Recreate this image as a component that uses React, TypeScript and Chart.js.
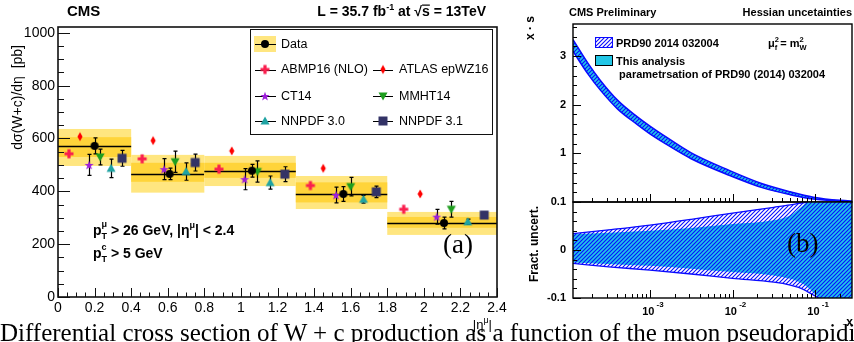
import React, { useEffect, useRef } from "react";
import { Chart, registerables } from "chart.js";

Chart.register(...registerables);

// ===== Panel (a): dsigma(W+c)/deta =====
const binEdges = [0, 0.4, 0.8, 1.3, 1.8, 2.4];
const dataEta = [0.2, 0.61, 1.06, 1.56, 2.11];
const dataXsec = [572, 466, 478, 390, 280];
const dataErr = [30, 22, 24, 28, 22];
const bandOuterHi = [636, 538, 534, 458, 322];
const bandOuterLo = [496, 395, 420, 333, 235];
const bandInnerHi = [605, 508, 508, 434, 303];
const bandInnerLo = [530, 436, 451, 358, 262];

const abmpEta = [0.06, 0.46, 0.88, 1.38, 1.89];
const abmpVal = [542, 523, 484, 422, 332];
const atlasEta = [0.12, 0.52, 0.95, 1.45, 1.98];
const atlasVal = [607, 592, 553, 487, 390];
const ct14Eta = [0.17, 0.58, 1.02, 1.52, 2.07];
const ct14Val = [500, 484, 446, 386, 304];
const ct14Err = [40, 40, 40, 30, 28];
const mmhtEta = [0.23, 0.64, 1.09, 1.6, 2.15];
const mmhtVal = [530, 512, 475, 418, 332];
const mmhtErr = [30, 40, 40, 35, 30];
const nn30Eta = [0.29, 0.7, 1.16, 1.67, 2.24];
const nn30Val = [487, 475, 433, 370, 285];
const nn30Err = [35, 33, 25, 15, 10];
const nn31Eta = [0.35, 0.75, 1.24, 1.74, 2.33];
const nn31Val = [525, 509, 465, 398, 310];
const nn31Err = [30, 32, 28, 22, 10];

const etaTicks = [0, 0.2, 0.4, 0.6, 0.8, 1, 1.2, 1.4, 1.6, 1.8, 2, 2.2, 2.4];
const xsecTicks = [0, 200, 400, 600, 800, 1000];

// ===== Panel (b): x*s and fractional uncertainty =====
const sX = [1.17e-4, 1.78e-4, 2.51e-4, 4.07e-4, 6.92e-4, 1.0e-3, 1.45e-3, 3.16e-3, 9.12e-3, 2.34e-2, 5.01e-2, 9.55e-2, 0.2, 0.316];
const sHi = [3.34, 2.85, 2.50, 2.09, 1.76, 1.56, 1.375, 1.01, 0.65, 0.37, 0.21, 0.10, 0.035, 0.017];
const sLo = [3.10, 2.63, 2.30, 1.91, 1.60, 1.40, 1.225, 0.89, 0.55, 0.29, 0.15, 0.06, 0.015, 0.003];

const uX = [1.17e-4, 3.16e-4, 1e-3, 3.16e-3, 1e-2, 3.16e-2, 5.01e-2, 6.31e-2, 7.94e-2, 0.1, 0.126, 0.316];
const hatchHi = [0.034, 0.042, 0.052, 0.064, 0.077, 0.089, 0.094, 0.097, 0.1, 0.115, 0.14, 0.3];
const hatchLo = [-0.028, -0.035, -0.042, -0.05, -0.059, -0.067, -0.073, -0.078, -0.086, -0.096, -0.11, -0.3];
const cyanHi = [0.033, 0.036, 0.04, 0.046, 0.054, 0.062, 0.072, 0.085, 0.1, 0.12, 0.15, 0.3];
const cyanLo = [-0.026, -0.029, -0.033, -0.039, -0.046, -0.053, -0.06, -0.066, -0.076, -0.092, -0.11, -0.3];

const xsTicks = [1, 2, 3];
const ratioTicks = [-0.1, 0, 0.1];
const logLabelExps = [-3, -2, -1];

const FONT = '"Liberation Sans", Arial, Helvetica, sans-serif';
const f = (size: number, bold = false) => `${bold ? "bold " : ""}${size}px ${FONT}`;
const OUTER = "#ffe680";
const INNER = "#ffd43a";
const BLUE = "#0a0aff";
const CYAN = "#22c6e6";
const RX = 510; // left offset of right canvases

type Seg = { t: string; size: number; bold?: boolean; dy?: number; keep?: boolean; over?: boolean };

function rich(ctx: CanvasRenderingContext2D, x: number, y: number, segs: Seg[], align: "left" | "right" | "center" = "left") {
  let total = 0;
  const ws: number[] = [];
  for (const s of segs) {
    ctx.font = f(s.size, s.bold);
    const w = ctx.measureText(s.t).width;
    ws.push(w);
    if (!s.keep) total += w;
  }
  let cx = align === "left" ? x : align === "right" ? x - total : x - total / 2;
  ctx.textAlign = "left";
  ctx.textBaseline = "alphabetic";
  segs.forEach((s, i) => {
    ctx.font = f(s.size, s.bold);
    ctx.fillText(s.t, cx, y + (s.dy || 0));
    if (s.over) ctx.fillRect(cx, y + (s.dy || 0) - s.size * 0.82, ws[i], 1.2);
    if (!s.keep) cx += ws[i];
  });
}

function makeMarker(kind: string, color: string): HTMLCanvasElement {
  const c = document.createElement("canvas");
  const s = 12;
  c.width = s;
  c.height = s;
  const g = c.getContext("2d")!;
  g.fillStyle = color;
  const m = s / 2;
  g.beginPath();
  if (kind === "circle") g.arc(m, m, 4, 0, Math.PI * 2);
  else if (kind === "plus") {
    g.rect(m - 1.6, m - 4.5, 3.2, 9);
    g.rect(m - 4.5, m - 1.6, 9, 3.2);
  } else if (kind === "diamond") {
    g.moveTo(m, m - 4.5);
    g.lineTo(m + 2.6, m);
    g.lineTo(m, m + 4.5);
    g.lineTo(m - 2.6, m);
    g.closePath();
  } else if (kind === "star") {
    for (let k = 0; k < 10; k++) {
      const r = k % 2 === 0 ? 4.8 : 2.0;
      const a = -Math.PI / 2 + (k * Math.PI) / 5;
      const px = m + r * Math.cos(a);
      const py = m + 0.5 + r * Math.sin(a);
      if (k === 0) g.moveTo(px, py);
      else g.lineTo(px, py);
    }
    g.closePath();
  } else if (kind === "tridown") {
    g.moveTo(m - 4.5, m - 3.5);
    g.lineTo(m + 4.5, m - 3.5);
    g.lineTo(m, m + 4.5);
    g.closePath();
  } else if (kind === "triup") {
    g.moveTo(m - 4.5, m + 3.5);
    g.lineTo(m + 4.5, m + 3.5);
    g.lineTo(m, m - 4.5);
    g.closePath();
  } else if (kind === "square") g.rect(m - 4.5, m - 4.5, 9, 9);
  g.fill();
  return c;
}

function makeHatch(ctx: CanvasRenderingContext2D): CanvasPattern {
  const t = document.createElement("canvas");
  const s = 4;
  t.width = s;
  t.height = s;
  const g = t.getContext("2d")!;
  g.strokeStyle = BLUE;
  g.lineWidth = 1.1;
  g.beginPath();
  g.moveTo(-1, s + 1);
  g.lineTo(s + 1, -1);
  g.moveTo(-1, 1);
  g.lineTo(1, -1);
  g.moveTo(s - 1, s + 1);
  g.lineTo(s + 1, s - 1);
  g.stroke();
  return ctx.createPattern(t, "repeat")!;
}

function errBar(ctx: CanvasRenderingContext2D, px: number, y0: number, y1: number) {
  const x = Math.round(px) + 0.5;
  ctx.beginPath();
  ctx.moveTo(x, y0);
  ctx.lineTo(x, y1);
  ctx.moveTo(x - 2, y0);
  ctx.lineTo(x + 2, y0);
  ctx.moveTo(x - 2, y1);
  ctx.lineTo(x + 2, y1);
  ctx.stroke();
}

export default function App() {
  const leftRef = useRef<HTMLCanvasElement>(null);
  const topRef = useRef<HTMLCanvasElement>(null);
  const botRef = useRef<HTMLCanvasElement>(null);

  useEffect(() => {
    const charts: Chart[] = [];
    const mk = {
      data: makeMarker("circle", "#000000"),
      abmp: makeMarker("plus", "#fa1e4e"),
      atlas: makeMarker("diamond", "#ff0000"),
      ct14: makeMarker("star", "#9d1fd9"),
      mmht: makeMarker("tridown", "#1e9e1e"),
      nn30: makeMarker("triup", "#1fa3a3"),
      nn31: makeMarker("square", "#333366"),
    };

    const series = [
      { name: "Data", eta: dataEta, val: dataXsec, err: dataErr, m: mk.data },
      { name: "ABMP16 (NLO)", eta: abmpEta, val: abmpVal, err: null, m: mk.abmp },
      { name: "ATLAS epWZ16", eta: atlasEta, val: atlasVal, err: null, m: mk.atlas },
      { name: "CT14", eta: ct14Eta, val: ct14Val, err: ct14Err, m: mk.ct14 },
      { name: "MMHT14", eta: mmhtEta, val: mmhtVal, err: mmhtErr, m: mk.mmht },
      { name: "NNPDF 3.0", eta: nn30Eta, val: nn30Val, err: nn30Err, m: mk.nn30 },
      { name: "NNPDF 3.1", eta: nn31Eta, val: nn31Val, err: nn31Err, m: mk.nn31 },
    ];

    const leftPlugin = {
      id: "leftDeco",
      beforeDatasetsDraw(chart: any) {
        const { ctx, scales } = chart;
        const x = scales.x, y = scales.y;
        ctx.save();
        for (let i = 0; i < dataXsec.length; i++) {
          const x0 = x.getPixelForValue(binEdges[i]);
          const x1 = x.getPixelForValue(binEdges[i + 1]);
          const oh = y.getPixelForValue(bandOuterHi[i]);
          const ol = y.getPixelForValue(bandOuterLo[i]);
          const ih = y.getPixelForValue(bandInnerHi[i]);
          const il = y.getPixelForValue(bandInnerLo[i]);
          ctx.fillStyle = OUTER;
          ctx.fillRect(x0, oh, x1 - x0, ol - oh);
          ctx.fillStyle = INNER;
          ctx.fillRect(x0, ih, x1 - x0, il - ih);
          const yc = Math.round(y.getPixelForValue(dataXsec[i])) + 0.5;
          ctx.strokeStyle = "#000";
          ctx.lineWidth = 1.6;
          ctx.beginPath();
          ctx.moveTo(x0, yc);
          ctx.lineTo(x1, yc);
          ctx.stroke();
        }
        ctx.strokeStyle = "#000";
        ctx.lineWidth = 1.2;
        for (const s of series) {
          if (!s.err) continue;
          for (let i = 0; i < s.eta.length; i++) {
            errBar(ctx, x.getPixelForValue(s.eta[i]), y.getPixelForValue(s.val[i] + s.err[i]), y.getPixelForValue(s.val[i] - s.err[i]));
          }
        }
        ctx.restore();
      },
      afterDatasetsDraw(chart: any) {
        const { ctx, chartArea: ca, scales } = chart;
        const x = scales.x, y = scales.y;
        ctx.save();
        ctx.strokeStyle = "#111";
        ctx.lineWidth = 1;
        ctx.beginPath();
        for (let k = 0; k <= 48; k++) {
          const v = k * 0.05;
          const major = k % 4 === 0;
          const px = Math.round(x.getPixelForValue(v)) + 0.5;
          ctx.moveTo(px, ca.bottom);
          ctx.lineTo(px, ca.bottom - (major ? 9 : 4.5));
        }
        for (let k = 0; k <= 20; k++) {
          const v = k * 50;
          const major = k % 4 === 0;
          const py = Math.round(y.getPixelForValue(v)) + 0.5;
          ctx.moveTo(ca.left, py);
          ctx.lineTo(ca.left + (major ? 12 : 6), py);
        }
        ctx.stroke();
        ctx.lineWidth = 1.6;
        ctx.strokeRect(ca.left, ca.top, ca.right - ca.left, ca.bottom - ca.top);
        ctx.restore();
      },
      afterDraw(chart: any) {
        const { ctx } = chart;
        ctx.save();
        ctx.fillStyle = "#000";
        rich(ctx, 67, 16, [{ t: "CMS", size: 15, bold: true }]);
        rich(ctx, 486, 16, [
          { t: "L = 35.7 fb", size: 14, bold: true },
          { t: "-1", size: 9, bold: true, dy: -6 },
          { t: " at ", size: 14, bold: true },
          { t: "\u221A", size: 14, bold: true },
          { t: "s", size: 14, bold: true, over: true },
          { t: " = 13TeV", size: 14, bold: true },
        ], "right");
        ctx.save();
        ctx.translate(18, 45);
        ctx.rotate(-Math.PI / 2);
        ctx.font = f(14);
        ctx.textAlign = "right";
        ctx.textBaseline = "middle";
        ctx.fillText("d\u03C3(W+c)/d\u03B7  [pb]", 0, 0);
        ctx.restore();
        rich(ctx, 492, 329, [
          { t: "|\u03B7", size: 13 },
          { t: "\u03BC", size: 9, dy: -6 },
          { t: "|", size: 13 },
        ], "right");
        rich(ctx, 93, 235, [
          { t: "p", size: 14, bold: true },
          { t: "\u03BC", size: 9, bold: true, dy: -8, keep: true },
          { t: "T", size: 9, bold: true, dy: 4 },
          { t: " > 26 GeV, |\u03B7", size: 14, bold: true },
          { t: "\u03BC", size: 9, bold: true, dy: -7 },
          { t: "| < 2.4", size: 14, bold: true },
        ]);
        rich(ctx, 93, 258, [
          { t: "p", size: 14, bold: true },
          { t: "c", size: 9, bold: true, dy: -8, keep: true },
          { t: "T", size: 9, bold: true, dy: 4 },
          { t: " > 5 GeV", size: 14, bold: true },
        ]);
        ctx.font = '27px "Liberation Serif", "Times New Roman", serif';
        ctx.textAlign = "left";
        ctx.textBaseline = "alphabetic";
        ctx.fillText("(a)", 443, 253);
        ctx.fillStyle = "#fff";
        ctx.fillRect(250, 29, 242, 105);
        ctx.strokeStyle = "#111";
        ctx.lineWidth = 1;
        ctx.strokeRect(250.5, 29.5, 242, 105);
        const slots = [
          [0, 44], [0, 69.5], [1, 69.5], [0, 96], [1, 96], [0, 121], [1, 121],
        ];
        const colX = [[255, 276, 265, 281], [373, 393, 383, 399]];
        ctx.fillStyle = OUTER;
        ctx.fillRect(254, 36, 22, 16);
        series.forEach((s, i) => {
          const [col, ry] = slots[i];
          const [l0, l1, mx, tx] = colX[col];
          ctx.strokeStyle = "#000";
          ctx.lineWidth = 1;
          ctx.beginPath();
          ctx.moveTo(l0, Math.round(ry) + 0.5);
          ctx.lineTo(l1, Math.round(ry) + 0.5);
          ctx.stroke();
          ctx.drawImage(s.m, mx - s.m.width / 2, ry - s.m.height / 2);
          ctx.fillStyle = "#000";
          ctx.font = f(12.5);
          ctx.textAlign = "left";
          ctx.textBaseline = "middle";
          ctx.fillText(s.name, tx, ry + 0.5);
        });
        ctx.restore();
      },
    };

    if (leftRef.current) {
      charts.push(
        new Chart(leftRef.current, {
          type: "scatter",
          data: {
            datasets: series.map((s) => ({
              label: s.name,
              data: s.eta.map((e, i) => ({ x: e, y: s.val[i] })),
              pointStyle: s.m as any,
              pointRadius: 5,
              showLine: false,
            })),
          },
          options: {
            animation: false,
            responsive: false,
            events: [],
            layout: { padding: { left: 0, right: 13, top: 27, bottom: 15 } },
            plugins: { legend: { display: false }, tooltip: { enabled: false } },
            scales: {
              x: {
                type: "linear",
                min: 0,
                max: 2.4,
                grid: { display: false, drawTicks: false },
                border: { display: false },
                afterBuildTicks: (s: any) => { s.ticks = etaTicks.map((v) => ({ value: v })); },
                afterFit: (s: any) => { s.height = 30; },
                ticks: {
                  padding: 3,
                  color: "#000",
                  font: { family: FONT, size: 14 },
                  maxRotation: 0,
                  autoSkip: false,
                  callback: (v: any) => String(Math.round(Number(v) * 10) / 10),
                },
              },
              y: {
                type: "linear",
                min: 0,
                max: 1022,
                grid: { display: false, drawTicks: false },
                border: { display: false },
                afterBuildTicks: (s: any) => { s.ticks = xsecTicks.map((v) => ({ value: v })); },
                afterFit: (s: any) => { s.width = 58; },
                ticks: {
                  padding: 3,
                  color: "#000",
                  font: { family: FONT, size: 14 },
                  callback: (v: any) => String(v),
                },
              },
            },
          },
          plugins: [leftPlugin as any],
        })
      );
    }

    const drawLogXTicks = (ctx: CanvasRenderingContext2D, ca: any, x: any) => {
      ctx.beginPath();
      for (let d = -5; d <= 0; d++) {
        for (let k = 1; k <= 9; k++) {
          const v = k * Math.pow(10, d);
          if (v < x.min || v > x.max) continue;
          const px = Math.round(x.getPixelForValue(v)) + 0.5;
          ctx.moveTo(px, ca.bottom);
          ctx.lineTo(px, ca.bottom - (k === 1 ? 8 : 4));
        }
      }
      ctx.stroke();
    };

    if (topRef.current) {
      const tctx = topRef.current.getContext("2d")!;
      const hatch = makeHatch(tctx);
      const topPlugin = {
        id: "topDeco",
        afterDatasetsDraw(chart: any) {
          const { ctx, chartArea: ca, scales } = chart;
          const x = scales.x, y = scales.y;
          ctx.save();
          ctx.strokeStyle = "#000";
          ctx.lineWidth = 1;
          drawLogXTicks(ctx, ca, x);
          ctx.beginPath();
          for (let k = 1; k <= 18; k++) {
            const v = k * 0.2;
            if (v > y.max) break;
            const py = Math.round(y.getPixelForValue(v)) + 0.5;
            const major = k % 5 === 0;
            ctx.moveTo(ca.left, py);
            ctx.lineTo(ca.left + (major ? 8 : 4), py);
          }
          ctx.stroke();
          ctx.lineWidth = 1.4;
          ctx.strokeRect(ca.left, ca.top, ca.right - ca.left, ca.bottom - ca.top);
          ctx.fillStyle = "#000";
          ctx.font = f(11, true);
          ctx.textAlign = "right";
          ctx.textBaseline = "middle";
          for (const v of xsTicks) ctx.fillText(String(v), 566 - RX, y.getPixelForValue(v));
          ctx.restore();
        },
        afterDraw(chart: any) {
          const { ctx } = chart;
          ctx.save();
          ctx.fillStyle = "#000";
          rich(ctx, 569 - RX, 16, [{ t: "CMS Preliminary", size: 11, bold: true }]);
          rich(ctx, 852 - RX, 16, [{ t: "Hessian uncetainties", size: 11, bold: true }], "right");
          ctx.save();
          ctx.translate(531 - RX, 16);
          ctx.rotate(-Math.PI / 2);
          ctx.font = f(12, true);
          ctx.textAlign = "right";
          ctx.textBaseline = "middle";
          ctx.fillText("x \u00B7 s", 0, 0);
          ctx.restore();
          ctx.fillStyle = "#fff";
          ctx.fillRect(595 - RX, 37, 17, 10);
          ctx.fillStyle = hatch;
          ctx.fillRect(595 - RX, 37, 17, 10);
          ctx.strokeStyle = BLUE;
          ctx.lineWidth = 1;
          ctx.strokeRect(595.5 - RX, 37.5, 17, 10);
          ctx.fillStyle = CYAN;
          ctx.fillRect(595 - RX, 55, 17, 10);
          ctx.strokeStyle = "#000";
          ctx.strokeRect(595.5 - RX, 55.5, 17, 10);
          ctx.fillStyle = "#000";
          rich(ctx, 616 - RX, 46.5, [{ t: "PRD90 2014 032004", size: 11, bold: true }]);
          rich(ctx, 768 - RX, 46.5, [
            { t: "\u03BC", size: 11, bold: true },
            { t: "2", size: 7.5, bold: true, dy: -5, keep: true },
            { t: "f", size: 7.5, bold: true, dy: 3 },
            { t: " = m", size: 11, bold: true },
            { t: "2", size: 7.5, bold: true, dy: -5, keep: true },
            { t: "W", size: 7.5, bold: true, dy: 3 },
          ]);
          rich(ctx, 616 - RX, 64.5, [{ t: "This analysis", size: 11, bold: true }]);
          rich(ctx, 616 - RX, 77.5, [{ t: " parametrsation of PRD90 (2014) 032004", size: 11, bold: true }]);
          ctx.restore();
        },
      };
      charts.push(
        new Chart(topRef.current, {
          type: "line",
          data: {
            datasets: [
              { data: sX.map((v, i) => ({ x: v, y: sHi[i] })), fill: "+1", backgroundColor: hatch, borderColor: BLUE, borderWidth: 1.5, pointRadius: 0, cubicInterpolationMode: "monotone" },
              { data: sX.map((v, i) => ({ x: v, y: sLo[i] })), fill: false, borderColor: BLUE, borderWidth: 1.5, pointRadius: 0, cubicInterpolationMode: "monotone" },
              { data: sX.map((v, i) => ({ x: v, y: sHi[i] })), fill: "+1", backgroundColor: CYAN, borderWidth: 0, pointRadius: 0, cubicInterpolationMode: "monotone" },
              { data: sX.map((v, i) => ({ x: v, y: sLo[i] })), fill: false, borderWidth: 0, pointRadius: 0, cubicInterpolationMode: "monotone" },
            ] as any,
          },
          options: {
            animation: false,
            responsive: false,
            events: [],
            layout: { padding: { left: 0, right: 2, top: 24, bottom: 140 } },
            plugins: { legend: { display: false }, tooltip: { enabled: false } },
            scales: {
              x: { type: "logarithmic", min: 1.17e-4, max: 0.28, ticks: { display: false }, grid: { display: false, drawTicks: false }, border: { display: false }, afterFit: (s: any) => { s.height = 0; } },
              y: { type: "linear", min: 0, max: 3.66, ticks: { display: false }, grid: { display: false, drawTicks: false }, border: { display: false }, afterFit: (s: any) => { s.width = 63; } },
            },
          },
          plugins: [topPlugin as any],
        })
      );
    }

    if (botRef.current) {
      const bctx = botRef.current.getContext("2d")!;
      const hatch = makeHatch(bctx);
      const botPlugin = {
        id: "botDeco",
        afterDatasetsDraw(chart: any) {
          const { ctx, chartArea: ca, scales } = chart;
          const x = scales.x, y = scales.y;
          ctx.save();
          ctx.strokeStyle = "#000";
          ctx.lineWidth = 1;
          drawLogXTicks(ctx, ca, x);
          ctx.beginPath();
          for (let k = -5; k <= 5; k++) {
            const v = k * 0.02;
            const py = Math.round(y.getPixelForValue(v)) + 0.5;
            const major = k % 5 === 0;
            ctx.moveTo(ca.left, py);
            ctx.lineTo(ca.left + (major ? 8 : 4), py);
          }
          ctx.stroke();
          ctx.lineWidth = 1.4;
          ctx.strokeRect(ca.left, ca.top, ca.right - ca.left, ca.bottom - ca.top);
          ctx.fillStyle = "#000";
          ctx.font = f(11, true);
          ctx.textAlign = "right";
          ctx.textBaseline = "middle";
          for (const v of ratioTicks) ctx.fillText(String(v), 566 - RX, y.getPixelForValue(v));
          for (const e of logLabelExps) {
            const px = x.getPixelForValue(Math.pow(10, e));
            rich(ctx, px + 3, 315, [
              { t: "10", size: 11, bold: true },
              { t: " " + String(e), size: 8, bold: true, dy: -8 },
            ], "center");
          }
          ctx.restore();
        },
        afterDraw(chart: any) {
          const { ctx } = chart;
          ctx.save();
          ctx.fillStyle = "#000";
          ctx.save();
          ctx.translate(535 - RX, 206);
          ctx.rotate(-Math.PI / 2);
          ctx.font = f(12, true);
          ctx.textAlign = "right";
          ctx.textBaseline = "middle";
          ctx.fillText("Fract. uncert.", 0, 0);
          ctx.restore();
          rich(ctx, 853 - RX, 326, [{ t: "x", size: 12, bold: true }], "right");
          ctx.font = '27px "Liberation Serif", "Times New Roman", serif';
          ctx.textAlign = "left";
          ctx.textBaseline = "alphabetic";
          ctx.fillText("(b)", 787 - RX, 252);
          ctx.restore();
        },
      };
      charts.push(
        new Chart(botRef.current, {
          type: "line",
          data: {
            datasets: [
              { data: uX.map((v, i) => ({ x: v, y: hatchHi[i] })), fill: "+1", backgroundColor: hatch, borderColor: BLUE, borderWidth: 1.3, pointRadius: 0, cubicInterpolationMode: "monotone" },
              { data: uX.map((v, i) => ({ x: v, y: hatchLo[i] })), fill: false, borderColor: BLUE, borderWidth: 1.3, pointRadius: 0, cubicInterpolationMode: "monotone" },
              { data: uX.map((v, i) => ({ x: v, y: cyanHi[i] })), fill: "+1", backgroundColor: CYAN, borderWidth: 0, pointRadius: 0, cubicInterpolationMode: "monotone" },
              { data: uX.map((v, i) => ({ x: v, y: cyanLo[i] })), fill: false, borderWidth: 0, pointRadius: 0, cubicInterpolationMode: "monotone" },
            ] as any,
          },
          options: {
            animation: false,
            responsive: false,
            events: [],
            layout: { padding: { left: 0, right: 2, top: 202, bottom: 44 } },
            plugins: { legend: { display: false }, tooltip: { enabled: false } },
            scales: {
              x: { type: "logarithmic", min: 1.17e-4, max: 0.28, ticks: { display: false }, grid: { display: false, drawTicks: false }, border: { display: false }, afterFit: (s: any) => { s.height = 0; } },
              y: { type: "linear", min: -0.1, max: 0.1, ticks: { display: false }, grid: { display: false, drawTicks: false }, border: { display: false }, afterFit: (s: any) => { s.width = 63; } },
            },
          },
          plugins: [botPlugin as any],
        })
      );
    }

    return () => charts.forEach((c) => c.destroy());
  }, []);

  const cs: React.CSSProperties = { position: "absolute", top: 0 };
  return (
    <div style={{ position: "fixed", left: 0, top: 0, width: 854, height: 342, overflow: "hidden", background: "#fff" }}>
      <canvas ref={leftRef} width={510} height={342} style={{ ...cs, left: 0, width: 510, height: 342 }} />
      <canvas ref={topRef} width={344} height={342} style={{ ...cs, left: RX, width: 344, height: 342 }} />
      <canvas ref={botRef} width={344} height={342} style={{ ...cs, left: RX, width: 344, height: 342 }} />
      <div
        style={{
          position: "absolute",
          left: 0,
          top: 321,
          fontFamily: '"Liberation Serif", "Times New Roman", serif',
          fontSize: 25,
          lineHeight: "24px",
          whiteSpace: "nowrap",
          color: "#000",
        }}
      >
        Differential cross section of W + c production as a function of the muon pseudorapidity
      </div>
    </div>
  );
}
